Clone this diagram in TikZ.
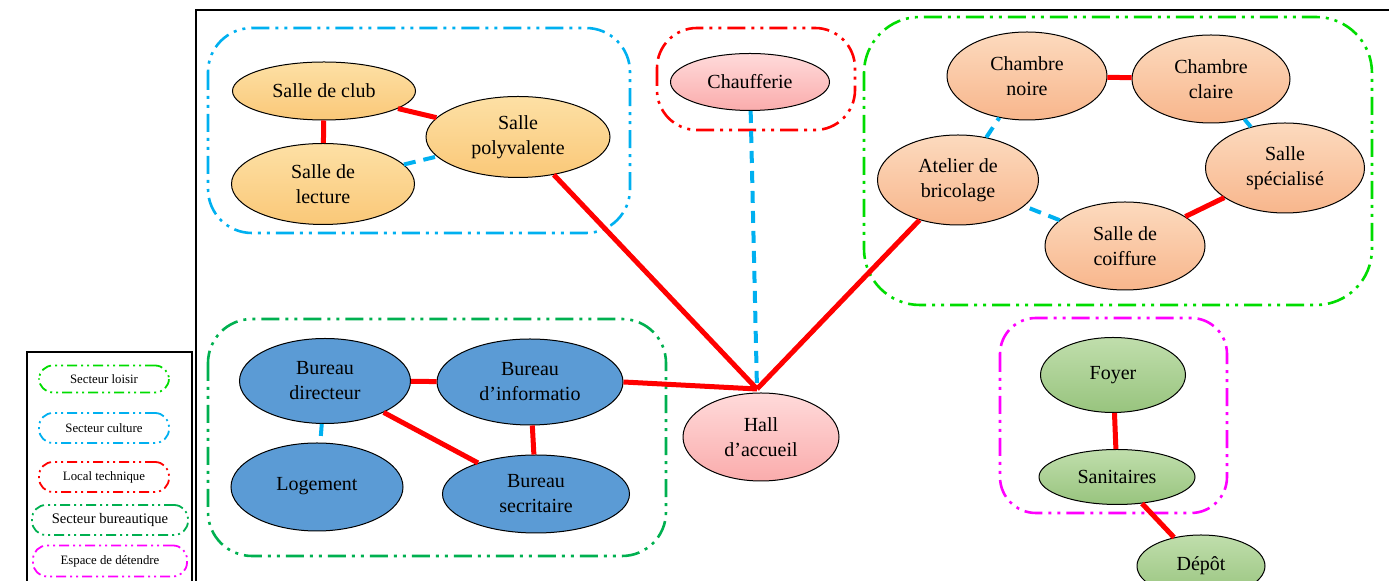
\documentclass[tikz,border=0pt]{standalone}
\usepackage{fontspec}
\setmainfont{Liberation Serif}
\usetikzlibrary{shapes.geometric}

\definecolor{cyanline}{RGB}{0,176,240}
\definecolor{loisirgreen}{RGB}{0,220,0}
\definecolor{bureaugreen}{RGB}{0,176,80}
\definecolor{redline}{RGB}{255,0,0}
\definecolor{magline}{RGB}{255,0,255}

\begin{document}
\begin{tikzpicture}[x=0.5pt,y=-0.5pt,
        room/.style={ellipse, draw=black, line width=0.5pt, inner sep=0pt, align=center,
            font=\fontsize{10}{12.5}\selectfont},
        orange/.style={room, top color={rgb,255:red,253;green,224;blue,165}, bottom color={rgb,255:red,250;green,200;blue,120}},
        peach/.style={room, top color={rgb,255:red,252;green,218;blue,190}, bottom color={rgb,255:red,248;green,182;blue,140}},
        pink/.style={room, top color={rgb,255:red,255;green,218;blue,218}, bottom color={rgb,255:red,250;green,172;blue,172}},
        blue/.style={room, fill={rgb,255:red,91;green,155;blue,213}},
        sage/.style={room, top color={rgb,255:red,192;green,222;blue,172}, bottom color={rgb,255:red,152;green,196;blue,126}},
        zone/.style={line width=1.3pt, rounded corners=22pt,
            dash pattern=on 9pt off 3pt on 1.5pt off 3pt on 1.5pt off 3pt},
        legendkey/.style={draw, line width=0.9pt, rounded corners=7pt, inner sep=0pt,
            dash pattern=on 5pt off 2pt on 1pt off 2pt on 1pt off 2pt,
            font=\fontsize{6.4}{7}\selectfont},
        link/.style={redline, line width=2.5pt},
        weak/.style={cyanline, line width=2pt, dash pattern=on 6pt off 4pt}]

    \useasboundingbox (0,0) rectangle (1389,581);

    \draw[line width=1pt] (196,590) -- (196,10) -- (1395,10);

    % zones
    \draw[zone, cyanline] (208,28) rectangle (630,233);
    \draw[zone, redline, rounded corners=20pt] (657,28) rectangle (855,130);
    \draw[zone, loisirgreen, rounded corners=28pt] (864,17) rectangle (1372,305);
    \draw[zone, bureaugreen] (208,319) rectangle (666,556);
    \draw[zone, magline, rounded corners=18pt] (1000,318) rectangle (1227,513);

    % secteur culture
    \node[orange, minimum width=91.5pt, minimum height=29pt] (club) at (324,91) {Salle de club};
    \node[orange, minimum width=91.5pt, minimum height=40.5pt] (lecture) at (323,184) {Salle de\\lecture};
    \node[orange, minimum width=92pt, minimum height=40.5pt] (poly) at (518,137) {Salle\\polyvalente};

    % local technique
    \node[pink, minimum width=79.5pt, minimum height=28.5pt] (chauf) at (750,82) {Chaufferie};

    % secteur loisir
    \node[peach, minimum width=80pt, minimum height=44pt] (noire) at (1027,76) {Chambre\\noire};
    \node[peach, minimum width=79pt, minimum height=44pt] (claire) at (1211,79) {Chambre\\claire};
    \node[peach, minimum width=79.5pt, minimum height=45pt] (spec) at (1285,168) {Salle\\spécialisé};
    \node[peach, minimum width=80pt, minimum height=44pt] (coiff) at (1125,246) {Salle de\\coiffure};
    \node[peach, minimum width=80.5pt, minimum height=45pt] (atelier) at (958,180) {Atelier de\\bricolage};

    % secteur bureautique
    \node[blue, minimum width=85.5pt, minimum height=42.5pt] (direct) at (325,381) {Bureau\\directeur};
    \node[blue, minimum width=93pt, minimum height=43pt] (info) at (530,382) {Bureau\\d’informatio};
    \node[blue, minimum width=86pt, minimum height=44pt] (loge) at (317,487) {\raisebox{3.5pt}{Logement}};
    \node[blue, minimum width=93.5pt, minimum height=39pt] (secr) at (536,494) {Bureau\\secritaire};

    \node[pink, minimum width=78pt, minimum height=44pt] (hall) at (761,437) {Hall\\d’accueil};
    \coordinate (hub) at (757,389);

    % espace de detente
    \node[sage, minimum width=72.5pt, minimum height=37.5pt] (foyer) at (1113,375) {Foyer};
    \node[sage, minimum width=78pt, minimum height=27.5pt] (sani) at (1117,477) {Sanitaires};
    \node[sage, minimum width=64pt, minimum height=31pt] (depot) at (1201,566) {Dépôt};

    \draw[link] (club) -- (lecture);
    \draw[link] (club) -- (poly);
    \draw[weak] (lecture) -- (poly);
    \draw[link] (poly) -- (hub);
    \draw[weak] (chauf) -- (hub);
    \draw[link] (noire) -- (claire);
    \draw[weak] (claire) -- (spec);
    \draw[link] (spec) -- (coiff);
    \draw[weak] (coiff) -- (atelier);
    \draw[weak] (atelier) -- (noire);
    \draw[link] (atelier) -- (hub);
    \draw[link] (direct) -- (info);
    \draw[link] (direct) -- (secr);
    \draw[link] (info) -- (secr);
    \draw[weak] (direct) -- (loge);
    \draw[link] (info.east) -- (hub);
    \draw[link] (foyer) -- (sani);
    \draw[link] (sani) -- (depot);

    % legende
    \draw[line width=0.9pt] (27,590) -- (27,352) -- (192,352) -- (192,590);
    \node[legendkey, loisirgreen, minimum width=65pt, minimum height=13.5pt] (kloisir) at (104,379) {\textcolor{black}{Secteur loisir}};
    \node[legendkey, cyanline, minimum width=65pt, minimum height=15pt] (kculture) at (104,428) {\textcolor{black}{Secteur culture}};
    \node[legendkey, redline, minimum width=65pt, minimum height=15pt] (ktech) at (104,477) {\textcolor{black}{Local technique}};
    \node[legendkey, bureaugreen, minimum width=78pt, minimum height=15pt, font=\fontsize{7.3}{8}\selectfont] (kbureau) at (110,520) {\textcolor{black}{Secteur bureautique}};
    \node[legendkey, magline, minimum width=77pt, minimum height=15.5pt] (kdetente) at (110,561) {\textcolor{black}{Espace de détendre}};
\end{tikzpicture}
\end{document}
